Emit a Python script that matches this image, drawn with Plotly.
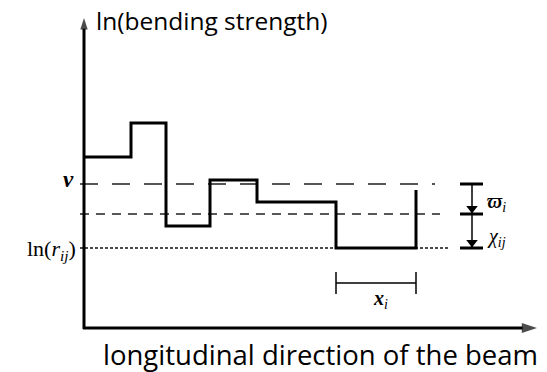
import plotly.graph_objects as go

# Step profile of ln(bending strength) along the beam (arbitrary units)
segment_edges = [0, 4.7, 8.2, 12.6, 17.3, 25.2, 33.2]
segment_levels = [17.1, 20.5, 10.2, 14.8, 12.6, 8.0]
end_level = 13.8

# Reference levels
nu_level = 14.4
mid_level = 11.4
ln_r_level = 8.0

# Labels
y_title = "ln(bending strength)"
x_title = "longitudinal direction of the beam"

x_min, x_max = -8.4, 46.3
y_min, y_max = -4.4, 32.8

step_x = segment_edges + [segment_edges[-1]]
step_y = segment_levels + [segment_levels[-1], end_level]

fig = go.Figure()

def add_line(x, y, color="black", width=1.5, dash="solid", marker=None):
    fig.add_trace(go.Scatter(x=x, y=y, mode="lines+markers" if marker else "lines",
                             line=dict(color=color, width=width, dash=dash),
                             marker=marker, hoverinfo="skip", showlegend=False,
                             cliponaxis=False))

# Reference lines
line_start = -0.4
add_line([line_start, 35.1], [nu_level, nu_level], color="#555555", width=2, dash="18px,14px")
add_line([line_start, 35.6], [mid_level, mid_level], color="#222222", width=1.6, dash="9px,7px")
add_line([line_start, 36.4], [ln_r_level, ln_r_level], color="#111111", width=1.5, dash="3px,2px")

# Step function
fig.add_trace(go.Scatter(x=step_x, y=step_y, mode="lines", line_shape="hv",
                         line=dict(color="black", width=3),
                         hoverinfo="skip", showlegend=False))

# Axes with arrow heads
add_line([0, 0], [-0.1, 31.0], width=3,
         marker=dict(symbol="arrow", size=[0, 12], angleref="previous", color="black",
                     line=dict(width=0)))
add_line([-0.1, 45.3], [0, 0], width=3,
         marker=dict(symbol="arrow", size=[0, 16], angleref="previous", color="black",
                     line=dict(width=0)))

# Dimension marker on the right
dim_x = 38.8
add_line([dim_x, dim_x], [nu_level, ln_r_level], width=1.5)
fig.add_trace(go.Scatter(x=[dim_x, dim_x], y=[mid_level + 0.55, ln_r_level + 0.55], mode="markers",
                         marker=dict(symbol="triangle-down", size=10, color="black",
                                     line=dict(width=0)),
                         hoverinfo="skip", showlegend=False))

shapes = []
for lvl in [nu_level, mid_level, ln_r_level]:
    shapes.append(dict(type="line", xref="x", yref="y", x0=37.6, x1=39.9, y0=lvl, y1=lvl,
                       line=dict(color="black", width=3)))

# x_i interval marker
xi_y = 4.5
x0i, x1i = segment_edges[5], segment_edges[6]
shapes.append(dict(type="line", xref="x", yref="y", x0=x0i, x1=x1i, y0=xi_y, y1=xi_y,
                   line=dict(color="black", width=1.5)))
for xv in [x0i, x1i]:
    shapes.append(dict(type="line", xref="x", yref="y", x0=xv, x1=xv, y0=xi_y - 1.1, y1=xi_y + 1.1,
                       line=dict(color="black", width=1.5)))

serif = "Liberation Serif"
sans = "Open Sans"

annotations = []
annotations.append(dict(x=-0.8, y=14.9, xref="x", yref="y", text="<i><b>ν</b></i>",
                        showarrow=False, xanchor="right", yanchor="middle",
                        font=dict(family=serif, size=23, color="black")))
annotations.append(dict(x=-0.6, y=7.8, xref="x", yref="y",
                        text="ln(<i>r</i><sub><i>ij</i></sub>)",
                        showarrow=False, xanchor="right", yanchor="middle",
                        font=dict(family=serif, size=22, color="black")))
annotations.append(dict(x=40.1, y=12.6, xref="x", yref="y",
                        text="<b><i>ϖ</i></b><sub><i>i</i></sub>",
                        showarrow=False, xanchor="left", yanchor="middle",
                        font=dict(family=serif, size=20, color="black")))
annotations.append(dict(x=40.1, y=9.1, xref="x", yref="y",
                        text="<i>χ</i><sub><i>ij</i></sub>",
                        showarrow=False, xanchor="left", yanchor="middle",
                        font=dict(family=serif, size=20, color="black")))
annotations.append(dict(x=29.6, y=2.9, xref="x", yref="y",
                        text="<b><i>x</i></b><sub><i>i</i></sub>",
                        showarrow=False, xanchor="center", yanchor="middle",
                        font=dict(family=serif, size=20, color="black")))
annotations.append(dict(x=1.0, y=30.8, xref="x", yref="y", text=y_title,
                        showarrow=False, xanchor="left", yanchor="middle",
                        font=dict(family=sans, size=24.5, color="black")))
annotations.append(dict(x=23.6, y=-2.6, xref="x", yref="y", text=x_title,
                        showarrow=False, xanchor="center", yanchor="middle",
                        font=dict(family=sans, size=27.5, color="black")))

fig.update_layout(
    width=547, height=372,
    margin=dict(l=0, r=0, t=0, b=0),
    paper_bgcolor="white", plot_bgcolor="white",
    xaxis=dict(range=[x_min, x_max], visible=False, fixedrange=True),
    yaxis=dict(range=[y_min, y_max], visible=False, fixedrange=True),
    shapes=shapes, annotations=annotations, showlegend=False,
)

fig.write_html("out.html", config={"displayModeBar": False},
               post_script="document.body.style.margin='0';document.body.style.overflow='hidden';")
